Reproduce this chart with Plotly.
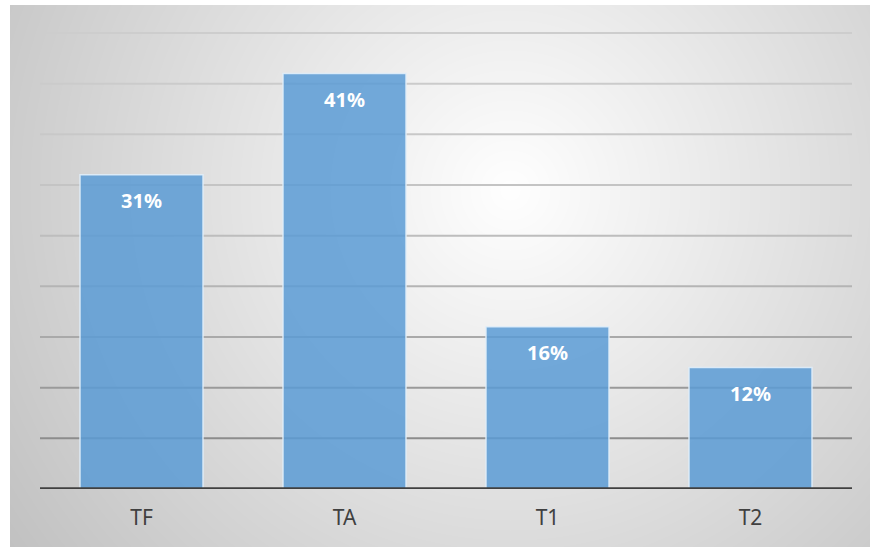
import base64
import struct
import zlib

import numpy as np
import plotly.graph_objects as go

# ---- data ----
categories = ["TF", "TA", "T1", "T2"]
values = [31, 41, 16, 12]
value_labels = [f"{v}%" for v in values]
grid_levels = [5, 10, 15, 20, 25, 30, 35, 40, 45]
grid_colors = ["#8c8c8c", "#9a9a9a", "#a9a9a9", "#b4b4b4", "#bdbdbd",
               "#c4c4c4", "#c8c8c8", "#cbcbcb", "#cdcdcd"]

W, H = 870, 547
ML, MR, MT, MB = 40, 18, 31, 58
PW, PH = W - ML - MR, H - MT - MB
Y_TOP = 45 * PH / 456.0  # 45% sits at pixel row 33


# ---- radial gradient background as PNG ----
def make_png(arr):
    h, w = arr.shape
    raw = b"".join(b"\x00" + arr[i].tobytes() for i in range(h))

    def chunk(tag, data):
        c = struct.pack(">I", len(data)) + tag + data
        return c + struct.pack(">I", zlib.crc32(tag + data) & 0xFFFFFFFF)

    ihdr = struct.pack(">IIBBBBB", w, h, 8, 0, 0, 0, 0)
    return (b"\x89PNG\r\n\x1a\n" + chunk(b"IHDR", ihdr)
            + chunk(b"IDAT", zlib.compress(raw, 9)) + chunk(b"IEND", b""))


bx0, by0 = 10, 5
bw, bh = W - bx0, H - by0
yy, xx = np.mgrid[by0:by0 + bh, bx0:bx0 + bw].astype(float)
r = np.sqrt((xx - 510) ** 2 + (yy - 190) ** 2)
g = np.clip(255 - 0.1 * r, 188, 255).astype(np.uint8)
img_src = "data:image/png;base64," + base64.b64encode(make_png(g)).decode()

fig = go.Figure()
fig.add_trace(go.Bar(
    x=categories, y=values,
    marker=dict(color="rgba(91,155,213,0.85)",
                line=dict(color="rgba(225,238,250,0.9)", width=1.5)),
    hoverinfo="skip",
))

# data labels inside bar tops
for c, v, t in zip(categories, values, value_labels):
    fig.add_annotation(x=c, y=v, text=t, showarrow=False, yshift=-26,
                       font=dict(family="Noto Sans", size=20, color="white",
                                 weight="bold"))

# gridlines
for lv, col in zip(grid_levels, grid_colors):
    fig.add_shape(type="line", xref="paper", x0=0, x1=1, yref="y", y0=lv, y1=lv,
                  line=dict(color=col, width=2), layer="below")

# baseline
fig.add_shape(type="line", xref="paper", x0=0, x1=1, yref="y", y0=0, y1=0,
              line=dict(color="#404040", width=3.5), layer="above")

fig.add_layout_image(
    source=img_src, xref="paper", yref="paper",
    x=(bx0 - ML) / PW, y=(H - MB - by0) / PH,
    sizex=bw / PW, sizey=bh / PH,
    xanchor="left", yanchor="top", sizing="stretch", layer="below",
)

fig.update_layout(
    width=W, height=H,
    margin=dict(l=ML, r=MR, t=MT, b=MB),
    paper_bgcolor="white",
    plot_bgcolor="rgba(0,0,0,0)",
    bargap=0.394,
    showlegend=False,
    xaxis=dict(showgrid=False, zeroline=False, showline=False, ticks="",
               tickfont=dict(family="Noto Sans", size=21, color="#404040"),
               ticklabelstandoff=14),
    yaxis=dict(range=[0, Y_TOP], showgrid=False, zeroline=False,
               showticklabels=False, showline=False),
)

fig.write_html("out.html")
